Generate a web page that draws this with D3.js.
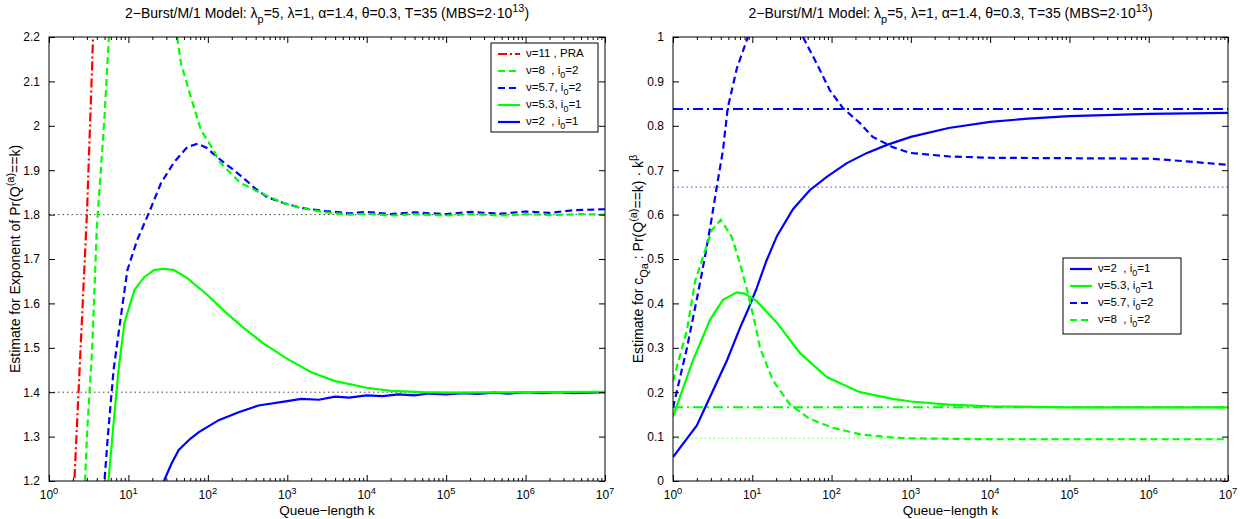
<!DOCTYPE html>
<html>
<head>
<meta charset="utf-8">
<script src="https://cdn.jsdelivr.net/npm/d3@7"></script>
<style>
body { margin: 0; background: #fff; }
svg { font-family: "Liberation Sans", Arial, sans-serif; }
text { white-space: pre; }
</style>
</head>
<body>
<svg id="chart" width="1246" height="519"></svg>
<script>
// x: queue length k, y: estimate  ([k, value]; null = curve leaves the box)
var majorK = [1, 10, 100, 1e3, 1e4, 1e5, 1e6, 1e7];
var leftTicks = [1.2, 1.3, 1.4, 1.5, 1.6, 1.7, 1.8, 1.9, 2, 2.1, 2.2];
var rightTicks = [0, 0.1, 0.2, 0.3, 0.4, 0.5, 0.6, 0.7, 0.8, 0.9, 1];

var leftPRA = [[2, 1.13], [2.5, 1.5], [3, 1.8], [3.5, 2.14], [4, 2.5]];
var leftNu8 = [[2.7, 1.1], [3, 1.3], [3.5, 1.5], [4, 1.77], [5, 2.02], [6, 2.28], [10, null],
    [41, 2.2], [46, 2.14], [61, 2.065], [82, 1.99], [109, 1.955], [145, 1.916], [258, 1.871],
    [460, 1.849], [890, 1.826], [1450, 1.815], [3000, 1.805], [6000, 1.8], [1e4, 1.802],
    [2e4, 1.798], [4e4, 1.801], [1e5, 1.798], [2e5, 1.801], [5e5, 1.798], [1e6, 1.801],
    [2e6, 1.799], [5e6, 1.801], [1e7, 1.8]];
var leftNu57 = [[4.9, 1.18], [5.5, 1.3], [6.5, 1.45], [7.7, 1.547], [9.7, 1.675], [12.9, 1.743],
    [18.3, 1.806], [25.7, 1.871], [37.6, 1.918], [55, 1.952], [75, 1.96], [97, 1.95],
    [145, 1.923], [213, 1.9], [282, 1.882], [376, 1.862], [548, 1.84], [890, 1.826],
    [1500, 1.815], [3000, 1.808], [6000, 1.803], [1e4, 1.806], [2e4, 1.801], [4e4, 1.805],
    [1e5, 1.801], [2e5, 1.806], [5e5, 1.802], [1e6, 1.807], [2e6, 1.804], [4e6, 1.81], [1e7, 1.812]];
var leftNu53 = [[5.6, 1.2], [6.5, 1.33], [7.5, 1.45], [8.9, 1.556], [11.9, 1.63], [15.8, 1.659],
    [21, 1.675], [28, 1.678], [37.6, 1.675], [55, 1.657], [97, 1.62], [172, 1.578], [282, 1.545],
    [500, 1.51], [1000, 1.475], [2000, 1.445], [4000, 1.425], [1e4, 1.41], [2e4, 1.403],
    [5e4, 1.4], [1e5, 1.399], [1e6, 1.4], [1e7, 1.401]];
var leftNu2 = [[28, 1.2], [35, 1.24], [43, 1.27], [60, 1.295], [77, 1.31], [137, 1.337],
    [244, 1.355], [434, 1.37], [1000, 1.38], [1500, 1.385], [2500, 1.383], [4000, 1.39],
    [6000, 1.388], [1e4, 1.393], [1.6e4, 1.391], [2.5e4, 1.395], [4e4, 1.393], [6e4, 1.397],
    [1e5, 1.395], [1.6e5, 1.398], [2.5e5, 1.396], [4e5, 1.399], [6e5, 1.397], [1e6, 1.4],
    [1.6e6, 1.398], [2.5e6, 1.4], [4e6, 1.398], [1e7, 1.4]];
var leftRefs = [1.8, 1.4];

var rightNu2 = [[1, 0.054], [2, 0.125], [2.93, 0.189], [4.8, 0.272], [7, 0.345], [8.8, 0.385],
    [11.4, 0.435], [15, 0.495], [20.5, 0.552], [32.6, 0.612], [53, 0.655], [87, 0.685], [156, 0.716],
    [280, 0.739], [500, 0.757], [1000, 0.775], [3000, 0.795], [1e4, 0.809], [3e4, 0.816],
    [1e5, 0.822], [1e6, 0.827], [1e7, 0.829]];
var rightNu53 = [[1, 0.145], [1.79, 0.272], [2.93, 0.363], [4.27, 0.408], [6.4, 0.425], [8, 0.422],
    [11.4, 0.405], [20.5, 0.356], [40, 0.288], [87, 0.234], [228, 0.2], [590, 0.185],
    [1000, 0.179], [3000, 0.172], [1e4, 0.168], [1e5, 0.166], [1e7, 0.166]];
var rightNu57 = [[1, 0.165], [1.5, 0.3], [2, 0.41], [2.5, 0.5], [3, 0.58], [3.6, 0.667],
    [4.27, 0.745], [4.9, 0.84], [6.4, 0.93], [8.8, 1.0], [20, null], [43.6, 1.0], [65, 0.94],
    [95, 0.88], [139, 0.84], [228, 0.806], [330, 0.775], [590, 0.752], [975, 0.739],
    [3000, 0.731], [1e4, 0.728], [1e5, 0.727], [1e6, 0.726], [3e6, 0.72], [1e7, 0.712]];
var rightNu8 = [[1, 0.225], [1.5, 0.34], [1.9, 0.45], [2.39, 0.505], [3.1, 0.565], [4, 0.588],
    [5.5, 0.55], [7, 0.49], [8.8, 0.423], [10.8, 0.356], [12.5, 0.3], [18.2, 0.227], [30, 0.172],
    [53, 0.14], [104, 0.12], [228, 0.105], [590, 0.098], [1e3, 0.096], [1e4, 0.094], [1e7, 0.094]];
var rightRefs = [0.838, 0.662, 0.166, 0.096];

var RED = "#ff0000", GREEN = "#00ff00", BLUE = "#0000ff";
var DASH = "7,4", DASHDOT = "9,3,2,3", DOT = "1.5,3";

var svg = d3.select("#chart");

// text with sub/superscript pieces: [str, "sub"|"sup"|undefined]
function rich(t, parts, size) {
    var shift = 0;
    parts.forEach(function (p) {
        var s = p[1] == "sup" ? -0.45 * size : (p[1] == "sub" ? 0.38 * size : 0);
        t.append("tspan")
            .attr("dy", s - shift)
            .attr("font-size", p[1] ? size * 0.78 : size)
            .text(p[0]);
        shift = s;
    });
    return t;
}

var titleParts = [["2\u2212Burst/M/1 Model: \u03bb"], ["p", "sub"],
    ["=5, \u03bb=1, \u03b1=1.4, \u03b8=0.3, T=35 (MBS=2\u00b710"], ["13", "sup"], [")"]];

function drawPanel(o) {
    var x = d3.scaleLog().domain([1, 1e7]).range([o.x0, o.x1]);
    var y = d3.scaleLinear().domain(o.yDomain).range([o.y1, o.y0]);
    var g = svg.append("g");

    g.append("clipPath").attr("id", o.id + "-clip")
        .append("rect")
        .attr("x", o.x0).attr("y", o.y0)
        .attr("width", o.x1 - o.x0).attr("height", o.y1 - o.y0);

    var plot = g.append("g").attr("clip-path", "url(#" + o.id + "-clip)");

    // reference lines
    o.refs.forEach(function (r) {
        plot.append("line")
            .attr("x1", o.x0).attr("x2", o.x1)
            .attr("y1", y(r.v)).attr("y2", y(r.v))
            .attr("stroke", r.color)
            .attr("stroke-width", r.width)
            .attr("stroke-dasharray", r.dash);
    });

    var line = d3.line()
        .defined(function (d) { return d[1] != null; })
        .x(function (d) { return x(d[0]); })
        .y(function (d) { return y(d[1]); });

    o.series.forEach(function (s) {
        plot.append("path")
            .attr("d", line(s.data))
            .attr("fill", "none")
            .attr("stroke", s.color)
            .attr("stroke-width", 2.2)
            .attr("stroke-dasharray", s.dash);
    });

    // minor log ticks
    var minors = [];
    for (var e = 0; e < 7; e++)
        for (var m = 2; m <= 9; m++) minors.push(m * Math.pow(10, e));

    var axes = [
        [d3.axisBottom(x).tickValues(minors).tickSize(-3), o.y1],
        [d3.axisTop(x).tickValues(minors).tickSize(-3), o.y0],
        [d3.axisBottom(x).tickValues(majorK).tickSize(-6), o.y1],
        [d3.axisTop(x).tickValues(majorK).tickSize(-6), o.y0]
    ];
    axes.forEach(function (a) {
        var ax = g.append("g")
            .attr("transform", "translate(0," + a[1] + ")")
            .call(a[0].tickFormat(""));
        ax.select(".domain").remove();
        ax.selectAll("line").attr("stroke", "#000");
    });

    // x tick labels 10^n
    majorK.forEach(function (k, i) {
        var t = g.append("text")
            .attr("x", x(k)).attr("y", o.y1 + 18)
            .attr("text-anchor", "middle")
            .attr("fill", "#000");
        rich(t, [["10"], [String(i), "sup"]], 12);
    });

    var gl = g.append("g")
        .attr("transform", "translate(" + o.x0 + ",0)")
        .call(d3.axisLeft(y).tickValues(o.yTicks).tickSize(-6).tickPadding(9).tickFormat(d3.format("")));
    gl.select(".domain").remove();
    gl.selectAll("text").attr("font-size", 12).attr("font-family", null).attr("fill", "#000");
    gl.selectAll("line").attr("stroke", "#000");

    var gr = g.append("g")
        .attr("transform", "translate(" + o.x1 + ",0)")
        .call(d3.axisRight(y).tickValues(o.yTicks).tickSize(-6).tickFormat(""));
    gr.select(".domain").remove();
    gr.selectAll("line").attr("stroke", "#000");

    g.append("rect")
        .attr("x", o.x0).attr("y", o.y0)
        .attr("width", o.x1 - o.x0).attr("height", o.y1 - o.y0)
        .attr("fill", "none").attr("stroke", "#000").attr("stroke-width", 1);

    // title and axis labels
    rich(g.append("text")
        .attr("x", (o.x0 + o.x1) / 2).attr("y", 18)
        .attr("text-anchor", "middle"), titleParts, 14);

    g.append("text")
        .attr("x", (o.x0 + o.x1) / 2).attr("y", o.y1 + 34)
        .attr("text-anchor", "middle")
        .attr("font-size", 13.5)
        .text("Queue\u2212length k");

    rich(g.append("text")
        .attr("transform", "translate(" + o.ylabX + "," + (o.y0 + o.y1) / 2 + ") rotate(-90)")
        .attr("text-anchor", "middle"), o.ylabel, 14);

    // legend
    var L = o.legend;
    g.append("rect")
        .attr("x", L.x).attr("y", L.y)
        .attr("width", L.w).attr("height", L.h)
        .attr("fill", "#fff").attr("stroke", "#000");
    L.items.forEach(function (it, i) {
        var yy = L.y + 11 + i * L.step;
        g.append("line")
            .attr("x1", L.x + 7).attr("x2", L.x + 29)
            .attr("y1", yy).attr("y2", yy)
            .attr("stroke", it.s.color)
            .attr("stroke-width", 2.2)
            .attr("stroke-dasharray", it.s.dash);
        rich(g.append("text")
            .attr("x", L.x + 35).attr("y", yy + 3), it.label, 11.5);
    });
}

var sPRA = { data: leftPRA, color: RED, dash: DASHDOT };
var sL8 = { data: leftNu8, color: GREEN, dash: DASH };
var sL57 = { data: leftNu57, color: BLUE, dash: DASH };
var sL53 = { data: leftNu53, color: GREEN, dash: null };
var sL2 = { data: leftNu2, color: BLUE, dash: null };

var sR2 = { data: rightNu2, color: BLUE, dash: null };
var sR53 = { data: rightNu53, color: GREEN, dash: null };
var sR57 = { data: rightNu57, color: BLUE, dash: DASH };
var sR8 = { data: rightNu8, color: GREEN, dash: DASH };

drawPanel({
    id: "left", x0: 49, x1: 605, y0: 37, y1: 481,
    yDomain: [1.2, 2.2], yTicks: leftTicks, ylabX: 20,
    ylabel: [["Estimate for Exponent of Pr(Q"], ["(a)", "sup"], ["==k)"]],
    refs: [
        { v: leftRefs[0], color: "#444", width: 1, dash: DOT },
        { v: leftRefs[1], color: "#444", width: 1, dash: DOT }
    ],
    series: [sL2, sL53, sL57, sL8, sPRA],
    legend: {
        x: 491, y: 43, w: 107, h: 89, step: 17,
        items: [
            { s: sPRA, label: [["\u03bd=11 , PRA"]] },
            { s: sL8, label: [["\u03bd=8  , i"], ["0", "sub"], ["=2"]] },
            { s: sL57, label: [["\u03bd=5.7, i"], ["0", "sub"], ["=2"]] },
            { s: sL53, label: [["\u03bd=5.3, i"], ["0", "sub"], ["=1"]] },
            { s: sL2, label: [["\u03bd=2  , i"], ["0", "sub"], ["=1"]] }
        ]
    }
});

drawPanel({
    id: "right", x0: 673, x1: 1228, y0: 37, y1: 481,
    yDomain: [0, 1], yTicks: rightTicks, ylabX: 643,
    ylabel: [["Estimate for c"], ["Qa", "sub"], [" : Pr(Q"], ["(a)", "sup"], ["==k) \u00b7 k"], ["\u03b2", "sup"]],
    refs: [
        { v: rightRefs[0], color: BLUE, width: 2, dash: "10,4,2,4" },
        { v: rightRefs[1], color: "#6b6bff", width: 1.2, dash: DOT },
        { v: rightRefs[2], color: GREEN, width: 2, dash: "10,4,2,4" },
        { v: rightRefs[3], color: "#80ff80", width: 1.2, dash: DOT }
    ],
    series: [sR2, sR53, sR57, sR8],
    legend: {
        x: 1063, y: 258, w: 118, h: 76, step: 17,
        items: [
            { s: sR2, label: [["\u03bd=2  , i"], ["0", "sub"], ["=1"]] },
            { s: sR53, label: [["\u03bd=5.3, i"], ["0", "sub"], ["=1"]] },
            { s: sR57, label: [["\u03bd=5.7, i"], ["0", "sub"], ["=2"]] },
            { s: sR8, label: [["\u03bd=8  , i"], ["0", "sub"], ["=2"]] }
        ]
    }
});
</script>
</body>
</html>
